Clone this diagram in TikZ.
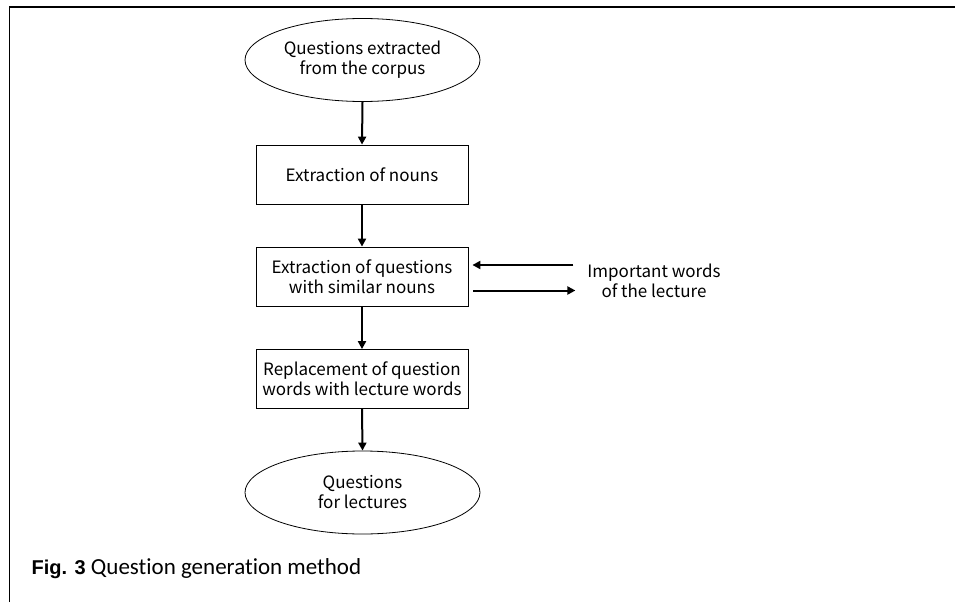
\documentclass[tikz,border=0pt]{standalone}
\usepackage{fontspec}
\setmainfont{Carlito}[Ligatures=NoCommon]
\newfontfamily\diagfont{Noto Sans CJK JP}
\newfontfamily\capbold{Liberation Sans}
\usetikzlibrary{shapes.geometric,arrows.meta}
\tikzset{
  term/.style={ellipse,draw,line width=0.8pt,inner sep=0pt,minimum width=235pt,minimum height=83pt,align=center,font=\diagfont\fontsize{17}{20}\selectfont},
  proc/.style={rectangle,draw,line width=0.8pt,inner sep=0pt,minimum width=212pt,minimum height=59pt,align=center,font=\diagfont\fontsize{17}{20}\selectfont},
  lbl/.style={inner sep=0pt,align=center,font=\diagfont\fontsize{17}{20}\selectfont},
  arr/.style={line width=2pt,-{Triangle[length=8pt,width=8pt]}},
  frame/.style={line width=1.8pt}
}
\begin{document}
\begin{tikzpicture}[x=1pt,y=-1pt]
\useasboundingbox (0,0) rectangle (955,602);
\draw[frame] (9.5,602) -- (9.5,7) -- (955,7);
\node[term] (e1) at (362.5,60) {Questions extracted\\from the corpus};
\node[proc] (b1) at (362,174.5) {Extraction of nouns};
\node[proc] (b2) at (362,276.5) {Extraction of questions\\with similar nouns};
\node[proc] (b3) at (362,379) {Replacement of question\\words with lecture words};
\node[term] (e2) at (362.5,492.5) {Questions\\for lectures};
\node[lbl] (imp) at (654,281) {Important words\\of the lecture};
\node[anchor=base west,inner sep=0pt,font=\fontsize{23}{27}\selectfont] (cap) at (31.5,574.3) {{\capbold\fontsize{20}{24}\selectfont\bfseries Fig. 3} Question generation method};
\draw[arr] (e1.south) -- (b1.north);
\draw[arr] (b1.south) -- (b2.north);
\draw[arr] (b2.south) -- (b3.north);
\draw[arr] (b3.south) -- (e2.north);
\coordinate (ua) at ([xshift=105pt,yshift=11.5pt]b2.east);
\coordinate (ub) at ([xshift=4pt,yshift=11.5pt]b2.east);
\coordinate (la) at ([xshift=5pt,yshift=-14pt]b2.east);
\coordinate (lb) at ([xshift=107pt,yshift=-14pt]b2.east);
\draw[arr] (ua) -- (ub);
\draw[arr] (la) -- (lb);
\end{tikzpicture}
\end{document}
